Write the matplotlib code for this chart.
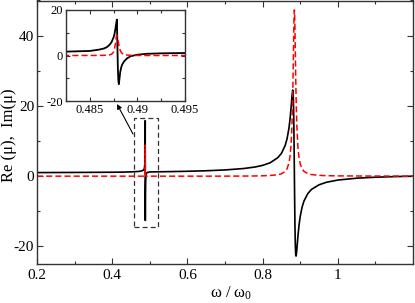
import matplotlib
matplotlib.use("Agg")
import matplotlib.pyplot as plt
from matplotlib.patches import Rectangle
from matplotlib.ticker import MultipleLocator

plt.rcParams["font.family"] = ["Liberation Serif", "DejaVu Serif"]
plt.rcParams["mathtext.fontset"] = "custom"
plt.rcParams["mathtext.rm"] = "Liberation Serif"
plt.rcParams["mathtext.default"] = "regular"
plt.rcParams["axes.unicode_minus"] = False

# frequency samples (omega / omega_0)
omega = [
    0.2, 0.25, 0.3, 0.35, 0.4, 0.43, 0.45, 0.46, 0.47, 0.475, 0.48, 0.4825,
    0.485, 0.486, 0.4865, 0.4868, 0.4871, 0.4873, 0.4875, 0.4876, 0.4877,
    0.4878, 0.48785, 0.4879, 0.48795, 0.488, 0.48805, 0.4881, 0.4882, 0.4883,
    0.4884, 0.4886, 0.4889, 0.4893, 0.49, 0.491, 0.4925, 0.495, 0.5, 0.55,
    0.6, 0.65, 0.7, 0.75, 0.78, 0.8, 0.82, 0.84, 0.85, 0.86, 0.865, 0.87,
    0.873, 0.876, 0.878, 0.88, 0.881, 0.882, 0.883, 0.884, 0.8845, 0.885,
    0.886, 0.887, 0.888, 0.889, 0.89, 0.891, 0.894, 0.897, 0.9, 0.905, 0.91,
    0.92, 0.93, 0.95, 0.97, 1.0, 1.05, 1.1, 1.15, 1.2,
]
re_mu = [
    1.02, 1.04, 1.06, 1.09, 1.12, 1.16, 1.22, 1.27, 1.35, 1.42, 1.55, 1.7,
    2.0, 2.6, 3.1, 3.7, 4.8, 6.0, 8.0, 9.5, 12.0,
    14.8, 15.8, 4.0, -6.0, -11.0, -12.6, -10.8, -7.2, -5.2,
    -4.0, -2.6, -1.3, -0.3, 0.35, 0.75, 0.95, 1.1, 1.2, 1.29,
    1.39, 1.54, 1.77, 2.18, 2.61, 3.07, 3.81, 5.23, 6.47, 8.73, 10.63, 13.6,
    16.24, 19.82, 22.58, 24.51, 24.08, 21.52, 15.7, 6.42, 1.0, -4.43,
    -13.73, -19.6, -22.25, -22.75, -22.12, -20.96, -17.03, -13.84, -11.49, -8.83, -7.09,
    -4.99, -3.77, -2.46, -1.73, -1.11, -0.58, -0.30, -0.13, -0.01,
]
im_mu = [
    0, 0, 0, 0, 0, 0, 0, 0, 0, 0, 0, 0,
    0.02, 0.05, 0.08, 0.15, 0.3, 0.6, 1.6, 3.0, 5.5,
    8.7, 8.8, 8.2, 7.0, 5.8, 4.6, 3.6, 2.2, 1.4,
    0.9, 0.45, 0.2, 0.08, 0.03, 0, 0, 0, 0, 0,
    0, 0, 0.01, 0.03, 0.06, 0.1, 0.2, 0.39, 0.67, 1.34, 2.1, 3.71,
    5.66, 9.47, 14.22, 22.41, 28.3, 35.24, 42.1, 46.65, 47.31, 46.71,
    42.26, 35.48, 28.61, 22.75, 18.13, 14.58, 8.2, 5.14, 3.5, 2.08, 1.38,
    0.74, 0.46, 0.23, 0.14, 0.08, 0.05, 0.03, 0.02, 0.01,
]


def style_axes(ax, xmajor, xminor, ymajor, yminor, size, majlen, minlen):
    ax.xaxis.set_major_locator(MultipleLocator(xmajor))
    ax.xaxis.set_minor_locator(MultipleLocator(xminor))
    ax.yaxis.set_major_locator(MultipleLocator(ymajor))
    ax.yaxis.set_minor_locator(MultipleLocator(yminor))
    ax.tick_params(which="both", direction="in", top=True, right=True,
                   labelsize=size, width=0.8, color="#333333")
    ax.tick_params(which="major", length=majlen)
    ax.tick_params(which="minor", length=minlen)
    for spine in ax.spines.values():
        spine.set_linewidth(1.0)
        spine.set_color("#333333")


fig = plt.figure(figsize=(4.15, 3.03), dpi=100)
ax = fig.add_axes([37 / 415, 39 / 303, 376 / 415, 263.5 / 303])

ax.plot(omega, re_mu, color="black", lw=1.2)
ax.plot(omega, im_mu, color="red", lw=1.1, dashes=(4, 2))
ax.set_xlim(0.2, 1.2)
ax.set_ylim(-25, 50)
style_axes(ax, 0.2, 0.1, 20, 10, 11, 4, 2.5)
ax.tick_params(axis="y", pad=2)
ax.set_xticks([0.2, 0.4, 0.6, 0.8, 1.0])
ax.set_xticklabels(["0.2", "0.4", "0.6", "0.8", "1"])
ax.set_xlabel("ω / ω$_0$", fontsize=12)
ax.xaxis.set_label_coords(0.516, -0.078)
ax.set_ylabel("Re (μ),  Im(μ)", fontsize=12)
ax.yaxis.set_label_coords(-0.074, 0.49)
ax.yaxis.label.set_va("center")

ax.add_patch(Rectangle((0.459, -14.5), 0.064, 31, fill=False,
                       edgecolor="#333333", lw=0.9, ls=(0, (4, 2.5))))

# inset zoom on the narrow resonance
ins = fig.add_axes([66 / 415, 202 / 303, 119 / 415, 91 / 303])
ins.plot(omega, re_mu, color="black", lw=1.3)
ins.plot(omega, im_mu, color="red", lw=1.1, dashes=(4, 2))
ins.set_xlim(0.4825, 0.495)
ins.set_ylim(-20, 20)
style_axes(ins, 0.005, 0.0025, 20, 10, 9, 3, 2)
ins.set_xticks([0.485, 0.49, 0.495])
ins.set_xticklabels(["0.485", "0.49", "0.495"])
ins.tick_params(axis="x", pad=2)
ins.tick_params(axis="y", pad=2)

ax.annotate("", xy=(117 / 415, 1 - 104 / 303), xycoords="figure fraction",
            xytext=(133 / 415, 1 - 134 / 303), textcoords="figure fraction",
            arrowprops=dict(arrowstyle="-|>", color="black", lw=0.8,
                            mutation_scale=7, shrinkA=0, shrinkB=0))

fig.savefig("out.png", dpi=100)
